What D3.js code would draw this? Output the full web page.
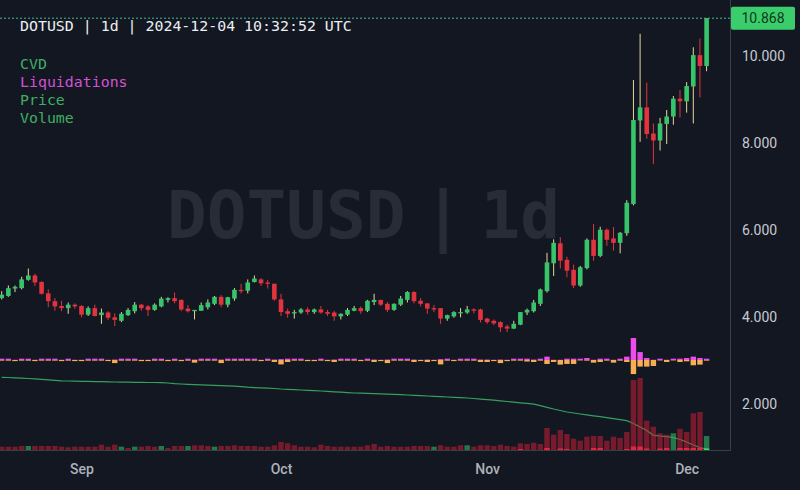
<!DOCTYPE html>
<html>
<head>
<meta charset="utf-8">
<script src="https://cdn.jsdelivr.net/npm/d3@7"></script>
<style>
  html, body { margin: 0; padding: 0; background: #131722; }
  svg { display: block; }
</style>
</head>
<body>
<div id="app"></div>
<script>
// DOTUSD daily, 2024-08-20 .. 2024-12-04
const startDay = new Date(Date.UTC(2024, 7, 20));

const open = [4.44,4.49,4.66,4.67,4.86,4.96,4.81,4.55,4.37,4.26,4.21,4.29,4.26,4.06,4.21,4.05,4.11,4.00,3.92,4.05,
  4.14,4.29,4.25,4.17,4.25,4.40,4.44,4.40,4.20,4.14,4.15,4.23,4.31,4.47,4.29,4.43,4.63,4.61,4.81,4.87,
  4.80,4.77,4.41,4.14,4.09,4.11,4.18,4.12,4.18,4.12,4.11,4.02,4.06,4.15,4.21,4.15,4.35,4.40,4.31,4.17,
  4.29,4.40,4.58,4.38,4.32,4.21,4.21,3.97,4.02,4.09,4.11,4.18,4.18,3.97,3.92,3.89,3.79,3.74,3.83,4.11,
  4.14,4.31,4.60,5.24,5.70,5.32,5.09,4.73,5.13,5.78,5.41,6.01,5.81,5.71,5.93,6.60,8.52,8.82,8.22,8.06,
  8.44,8.61,9.02,8.96,9.30,10.02,9.77];
const high = [4.60,4.73,4.73,4.93,5.12,5.00,4.83,4.64,4.44,4.38,4.34,4.32,4.28,4.25,4.29,4.20,4.14,4.09,4.12,4.21,
  4.35,4.31,4.28,4.32,4.47,4.46,4.57,4.41,4.28,4.17,4.34,4.41,4.49,4.51,4.47,4.67,4.77,4.87,4.96,4.90,
  4.86,4.77,4.54,4.20,4.17,4.21,4.23,4.20,4.26,4.17,4.15,4.09,4.21,4.26,4.25,4.40,4.54,4.40,4.35,4.32,
  4.49,4.60,4.60,4.44,4.32,4.28,4.21,4.06,4.14,4.21,4.26,4.21,4.20,3.99,3.95,3.91,3.83,3.92,4.12,4.20,
  4.40,4.66,5.48,5.79,5.84,5.39,5.21,5.18,5.81,6.14,6.08,6.04,6.07,5.96,6.69,9.45,10.51,9.39,8.45,8.58,
  8.76,9.08,9.22,9.40,10.20,10.40,10.868];
const low = [4.41,4.47,4.58,4.64,4.84,4.72,4.52,4.23,4.15,4.14,4.08,4.20,4.00,4.03,4.02,3.85,3.94,3.80,3.89,4.03,
  4.09,4.15,4.03,4.15,4.23,4.34,4.32,4.14,4.11,3.95,4.15,4.18,4.28,4.23,4.23,4.38,4.55,4.55,4.80,4.72,
  4.66,4.38,4.03,3.99,3.97,4.08,4.06,4.08,4.08,4.03,3.92,3.95,4.03,4.14,4.08,4.12,4.28,4.26,4.12,4.15,
  4.26,4.34,4.32,4.25,4.08,4.12,3.85,3.92,3.99,4.00,4.08,4.09,3.88,3.85,3.82,3.66,3.66,3.73,3.82,4.05,
  4.11,4.26,4.57,4.95,5.12,4.92,4.67,4.70,5.10,5.30,5.38,5.64,5.53,5.47,5.87,6.57,8.03,8.10,7.52,7.83,
  7.98,8.42,8.59,8.70,8.45,9.05,9.65];
const close = [4.52,4.67,4.70,4.87,4.96,4.80,4.54,4.37,4.25,4.21,4.29,4.25,4.06,4.21,4.03,4.11,3.99,3.94,4.08,4.17,
  4.29,4.21,4.17,4.29,4.43,4.44,4.37,4.18,4.14,4.17,4.28,4.34,4.47,4.29,4.46,4.63,4.60,4.80,4.89,4.78,
  4.77,4.41,4.12,4.08,4.12,4.18,4.12,4.18,4.11,4.08,4.02,4.08,4.17,4.21,4.14,4.38,4.40,4.29,4.17,4.31,
  4.43,4.58,4.37,4.31,4.20,4.18,3.97,4.05,4.12,4.12,4.18,4.15,3.94,3.89,3.86,3.77,3.74,3.85,4.12,4.17,
  4.34,4.64,5.26,5.71,5.30,5.07,4.73,5.15,5.78,5.41,6.01,5.78,5.71,5.94,6.63,8.53,8.82,8.21,8.06,8.45,
  8.61,9.02,8.96,9.31,10.02,9.77,10.868];

// volume (M), 1 = green bar, 0 = red bar
const volume = [0.33,0.33,0.33,0.40,0.40,0.40,0.40,0.40,0.40,0.33,0.27,0.33,0.33,0.33,0.33,0.53,0.33,0.53,0.33,0.20,
  0.33,0.33,0.40,0.33,0.40,0.20,0.40,0.40,0.40,0.47,0.47,0.40,0.33,0.40,0.40,0.47,0.40,0.40,0.40,0.33,
  0.33,0.47,0.80,0.67,0.47,0.33,0.33,0.27,0.53,0.40,0.33,0.33,0.33,0.33,0.33,0.47,0.60,0.33,0.40,0.33,
  0.33,0.33,0.40,0.40,0.40,0.33,0.47,0.33,0.33,0.47,0.47,0.33,0.47,0.47,0.40,0.53,0.40,0.33,0.67,0.60,
  0.73,0.60,2.20,1.53,2.00,1.60,1.13,0.93,1.33,1.40,1.40,0.93,1.33,1.20,1.80,7.00,7.20,2.93,2.33,1.67,
  1.53,1.67,2.13,1.80,3.67,3.80,1.40];
const volumeUp = [0,0,0,0,1,0,0,0,0,0,0,0,0,0,0,0,0,0,1,0,1,0,0,0,1,0,0,0,1,0,0,0,1,0,0,0,0,0,0,0,
  0,0,0,0,0,0,0,0,0,0,0,0,0,0,0,0,0,0,0,0,0,0,0,0,0,1,0,0,0,0,1,0,0,0,0,0,0,0,0,0,
  0,0,0,0,0,0,0,0,0,0,0,0,0,0,0,0,0,0,0,0,0,1,0,0,0,0,1];
const volumeTaker = [0,0,0,0,0,0,0,0,0,0,0,0,0,0,0,0,0,0,0,0,0,0,0,0,0,0,0,0,0,0,0,0,0,0,0,0,0,0,0,0,
  0,0,0,0,0,0,0,0,0,0,0,0,0,0,0,0,0,0,0,0,0,0,0,0,0,0,0,0,0,0,0,0,0,0,0,0,0,0,0.1,0,
  0,0,0.2,0,0.15,0.1,0,0,0,0.2,0.2,0,0,0,0.1,0.35,0.35,0.15,0,0.15,0.2,0,0.2,0.2,0.2,0.2,0.15];

// liquidations ($M): longs drawn up, shorts drawn down
const liqLong = [0.3,0.3,0.05,0.3,0.3,0.05,0.3,0.3,0.3,0.05,0.3,0.05,0.05,0.3,0.3,0.3,0.05,0.1,0.3,0.3,
  0.3,0.05,0.05,0.3,0.3,0.05,0.3,0.05,0.3,0.1,0.3,0.3,0.3,0.1,0.3,0.3,0.3,0.3,0.3,0.05,
  0.3,0.1,0.2,0.3,0.3,0.3,0.05,0.05,0.3,0.05,0.1,0.3,0.3,0.3,0.05,0.3,0.1,0.05,0.1,0.3,
  0.3,0.3,0.1,0.05,0.1,0.05,0.2,0.3,0.05,0.3,0.3,0.3,0.1,0.1,0.05,0.1,0.05,0.3,0.3,0.3,
  0.1,0.3,0.76,0.05,0.05,0.3,0.3,0.3,0.45,0.05,0.3,0.3,0.05,0.3,0.76,5.0,1.8,0.45,0.05,0.3,
  0.05,0.3,0.3,0.45,0.76,0.45,0.3];
const liqShort = [0.15,0.15,0.25,0.15,0.15,0.25,0.15,0.15,0.15,0.25,0.15,0.25,0.25,0.15,0.15,0.15,0.25,0.7,0.15,0.15,
  0.15,0.25,0.25,0.15,0.15,0.25,0.15,0.25,0.15,0.6,0.15,0.15,0.15,0.7,0.15,0.15,0.15,0.15,0.15,0.25,
  0.15,0.45,1.0,0.45,0.15,0.15,0.25,0.25,0.15,0.25,0.45,0.15,0.15,0.15,0.25,0.15,0.45,0.25,0.7,0.15,
  0.15,0.15,0.45,0.25,0.45,0.25,1.0,0.15,0.25,0.15,0.15,0.15,0.45,0.45,0.25,0.7,0.25,0.15,0.15,0.35,
  0.45,0.15,0.9,0.45,1.05,0.9,0.9,0.1,0.15,0.6,0.45,0.15,0.6,0.15,0.45,3.2,1.5,1.5,1.36,0.1,
  0.45,0.1,0.45,0.3,1.2,1.05,0.15];

// cumulative volume delta (M)
const cvd = [0,-0.2,-0.5,-0.8,-1.2,-1.6,-2.0,-2.6,-3.1,-3.5,-3.7,-3.9,-4.0,-4.1,-4.3,-4.4,-4.6,-4.7,-4.8,-4.9,
  -5.0,-5.1,-5.2,-5.2,-5.3,-5.7,-6.4,-6.7,-7.0,-7.3,-7.6,-7.8,-8.0,-8.3,-8.5,-8.8,-9.3,-9.9,-10.3,-10.6,
  -10.9,-11.2,-11.7,-12.0,-12.3,-12.7,-13.0,-13.3,-13.7,-14.0,-14.5,-14.9,-15.3,-15.7,-15.9,-16.1,-16.4,-16.6,-16.8,-17.0,
  -17.3,-17.7,-18.1,-18.4,-18.7,-19.0,-19.3,-19.7,-20.0,-20.4,-20.7,-21.2,-21.8,-22.4,-22.9,-23.5,-24.2,-24.8,-25.5,-26.1,
  -26.9,-28.4,-30.0,-31.7,-33.2,-34.7,-35.7,-36.7,-37.6,-38.5,-39.4,-40.4,-41.4,-42.4,-43.4,-46.2,-49.7,-53.2,-58.0,-58.7,
  -59.4,-60.2,-62.2,-64.7,-67.7,-70.2,-71.7];

const priceTicks = [2, 4, 6, 8, 10];
const monthTicks = [new Date(Date.UTC(2024, 8, 1)), new Date(Date.UTC(2024, 9, 1)),
  new Date(Date.UTC(2024, 10, 1)), new Date(Date.UTC(2024, 11, 1))];

const full = { width: 800, height: 490 };
const plot = { right: 730, bottom: 450 };

const dates = d3.utcDay.range(startDay, d3.utcDay.offset(startDay, open.length));
const bars = dates.map((d, i) => ({
  date: d, o: open[i], h: high[i], l: low[i], c: close[i],
  vol: volume[i], up: volumeUp[i], taker: volumeTaker[i],
  ll: liqLong[i], ls: liqShort[i], cvd: cvd[i]
}));

const x = d3.scaleUtc().domain([dates[0], dates[dates.length - 1]]).range([1.7, 706.6]);
const y = d3.scaleLinear().domain([2, 10]).range([404.4, 56]);
const yVol = d3.scaleLinear().domain([0, 8]).range([plot.bottom, 370]);
const yLiq = d3.scaleLinear().domain([-5, 5]).range([382, 338]);
const yCvd = d3.scaleLinear().domain([0, -72]).range([377.3, 449.3]);

const GREEN = "#37c46b", RED = "#e2343f", WICK_UP = "#e6d79d";
const mono = "'DejaVu Sans Mono', monospace";

const svg = d3.select("#app").append("svg")
  .attr("width", full.width).attr("height", full.height)
  .attr("viewBox", `0 0 ${full.width} ${full.height}`);

svg.append("rect").attr("width", full.width).attr("height", full.height).attr("fill", "#131722");

// watermark
svg.append("text")
  .attr("x", 167).attr("y", 238)
  .attr("font-family", mono).attr("font-weight", "bold").attr("font-size", 66)
  .attr("word-spacing", "-22px")
  .attr("fill", "#282c37")
  .text("DOTUSD | 1d");

svg.append("defs").append("clipPath").attr("id", "plotclip")
  .append("rect").attr("x", 0).attr("y", 0).attr("width", plot.right).attr("height", plot.bottom);

const g = svg.append("g").attr("clip-path", "url(#plotclip)");

// cvd line (under the volume bars)
g.append("path")
  .datum(bars)
  .attr("fill", "none")
  .attr("stroke", "#35a05c")
  .attr("stroke-width", 1.2)
  .attr("d", d3.line().x(d => x(d.date)).y(d => yCvd(d.cvd)));

// volume
g.selectAll(".vol").data(bars).join("rect")
  .attr("class", "vol")
  .attr("x", d => x(d.date) - 2.7).attr("width", 5.4)
  .attr("y", d => yVol(d.vol)).attr("height", d => plot.bottom - yVol(d.vol))
  .attr("fill", d => d.up ? "rgba(46,180,100,0.62)" : "rgba(200,30,52,0.55)");

g.selectAll(".taker").data(bars.filter(d => d.taker > 0)).join("rect")
  .attr("class", "taker")
  .attr("x", d => x(d.date) - 2.7).attr("width", 5.4)
  .attr("y", d => yVol(d.taker)).attr("height", d => plot.bottom - yVol(d.taker))
  .attr("fill", d => d.up ? "#3ddc6e" : "#e8233d");

// liquidations
g.selectAll(".liqL").data(bars).join("rect")
  .attr("class", "liqL")
  .attr("x", d => x(d.date) - 2.7).attr("width", 5.4)
  .attr("y", d => yLiq(d.ll)).attr("height", d => yLiq(0) - yLiq(d.ll))
  .attr("fill", "#ee4cee");
g.selectAll(".liqS").data(bars).join("rect")
  .attr("class", "liqS")
  .attr("x", d => x(d.date) - 2.7).attr("width", 5.4)
  .attr("y", yLiq(0)).attr("height", d => yLiq(-d.ls) - yLiq(0))
  .attr("fill", "#f7ae52");

// candles
const candle = g.selectAll(".candle").data(bars).join("g").attr("class", "candle");
candle.append("line")
  .attr("x1", d => x(d.date)).attr("x2", d => x(d.date))
  .attr("y1", d => y(d.h)).attr("y2", d => y(d.l))
  .attr("stroke", d => d.c >= d.o ? WICK_UP : RED)
  .attr("stroke-width", 1);
candle.append("rect")
  .attr("x", d => x(d.date) - 2.3).attr("width", 4.6)
  .attr("y", d => y(Math.max(d.o, d.c)))
  .attr("height", d => Math.max(1, Math.abs(y(d.o) - y(d.c))))
  .attr("fill", d => d.c >= d.o ? GREEN : RED);

// last price line
const last = bars[bars.length - 1].c;
svg.append("line")
  .attr("x1", 0).attr("x2", plot.right)
  .attr("y1", y(last)).attr("y2", y(last))
  .attr("stroke", "#45b98f").attr("stroke-width", 1)
  .attr("stroke-dasharray", "2,2");

// frame
svg.append("line").attr("x1", plot.right + 0.5).attr("x2", plot.right + 0.5)
  .attr("y1", 0).attr("y2", plot.bottom + 0.5).attr("stroke", "#3a3e49");
svg.append("line").attr("x1", 0).attr("x2", plot.right + 0.5)
  .attr("y1", plot.bottom + 0.5).attr("y2", plot.bottom + 0.5).attr("stroke", "#3a3e49");

// price axis
const yAxis = svg.append("g")
  .attr("transform", `translate(${plot.right},0)`)
  .call(d3.axisRight(y).tickValues(priceTicks).tickFormat(d3.format(".3f")).tickSize(0).tickPadding(12));
yAxis.select(".domain").remove();
yAxis.selectAll("text")
  .attr("fill", "#c6cad2").attr("font-family", "Roboto, sans-serif").attr("font-size", 14);

// time axis
const xAxis = svg.append("g")
  .attr("transform", `translate(0,${plot.bottom})`)
  .call(d3.axisBottom(x).tickValues(monthTicks).tickFormat(d3.utcFormat("%b")).tickSize(0).tickPadding(14));
xAxis.select(".domain").remove();
xAxis.selectAll("text")
  .attr("fill", "#aeb2ba").attr("font-family", "Roboto, sans-serif")
  .attr("font-size", 14).attr("font-weight", 500);

// last price tag
svg.append("rect")
  .attr("x", 731).attr("y", y(last) - 11.5).attr("width", 64).attr("height", 23)
  .attr("rx", 2).attr("fill", "#3bcd6b");
svg.append("text")
  .attr("x", 763).attr("y", y(last)).attr("dy", "0.35em")
  .attr("text-anchor", "middle")
  .attr("font-family", "Roboto, sans-serif").attr("font-size", 14)
  .attr("fill", "#0f3a1d")
  .text(d3.format(".3f")(last));

// header + legend
svg.append("text")
  .attr("x", 20).attr("y", 31)
  .attr("font-family", mono).attr("font-size", 14.9)
  .attr("fill", "#eceef2")
  .text("DOTUSD | 1d | 2024-12-04 10:32:52 UTC");

const legend = [["CVD", "#3fae62"], ["Liquidations", "#d152d1"], ["Price", "#3fae62"], ["Volume", "#3fae62"]];
svg.selectAll(".legend").data(legend).join("text")
  .attr("class", "legend")
  .attr("x", 20).attr("y", (d, i) => 69 + i * 18)
  .attr("font-family", mono).attr("font-size", 14.9)
  .attr("fill", d => d[1])
  .text(d => d[0]);
</script>
</body>
</html>
